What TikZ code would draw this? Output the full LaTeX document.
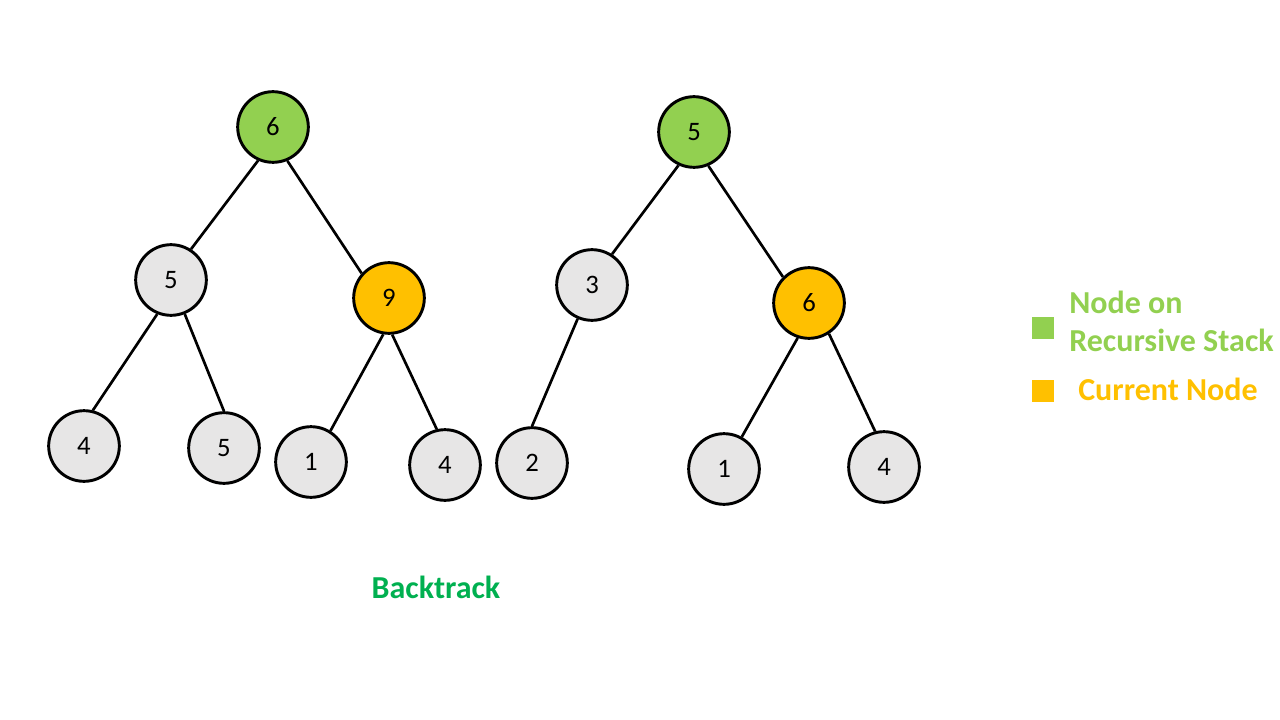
\documentclass[tikz,border=0pt]{standalone}
\usepackage{fontspec}
\setmainfont{Carlito}
\definecolor{stackgreen}{HTML}{92D050}
\definecolor{currorange}{HTML}{FFC000}
\definecolor{nodegray}{HTML}{E7E6E6}
\definecolor{backgreen}{HTML}{00B050}
\begin{document}
\begin{tikzpicture}[x=0.75pt,y=-0.75pt,
  treenode/.style={circle,draw=black,line width=2.2pt,fill=nodegray,minimum size=53pt,inner sep=0pt,font=\fontsize{20}{22}\selectfont},
  onstack/.style={treenode,fill=stackgreen},
  current/.style={treenode,fill=currorange},
  edge/.style={line width=2pt},
  legendbox/.style={rectangle,fill=#1,minimum size=16pt,inner sep=0pt},
  legendtext/.style={anchor=west,align=left,inner sep=0pt,font=\fontsize{24}{28.5}\selectfont\bfseries}]
\useasboundingbox (0,0) rectangle (1280,720);
%first tree%
\node[onstack] (rootA) at (273,127) {6};
\node[treenode] (leftA) at (171,280) {5};
\node[current] (rightA) at (389,298) {9};
\node[treenode] (leftleftA) at (84,446) {4};
\node[treenode] (leftrightA) at (224,448) {5};
\node[treenode] (rightleftA) at (311,462) {1};
\node[treenode] (rightrightA) at (445,465) {4};
\draw[edge] (rootA.246) -- (leftA.57);
\draw[edge] (rootA.293) -- (rightA.138);
\draw[edge] (leftA.248) -- (leftleftA.76);
\draw[edge] (leftA.292) -- (leftrightA.90);
\draw[edge] (rightA.261) -- (rightleftA.58);
\draw[edge] (rightA.275) -- (rightrightA.103);
%second tree%
\node[onstack] (rootB) at (694,132) {5};
\node[treenode] (leftB) at (592,285) {3};
\node[current] (rightB) at (809,303) {6};
\node[treenode] (leftleftB) at (532,463) {2};
\node[treenode] (rightleftB) at (724,469) {1};
\node[treenode] (rightrightB) at (884,467) {4};
\draw[edge] (rootB.245) -- (leftB.57);
\draw[edge] (rootB.293) -- (rightB.135);
\draw[edge] (leftB.247) -- (leftleftB.90);
\draw[edge] (rightB.252) -- (rightleftB.61);
\draw[edge] (rightB.303) -- (rightrightB.104);
%caption%
\node[font=\fontsize{24}{28}\selectfont\bfseries,text=backgreen] (backtrack) at (436,587) {Backtrack};
%legend%
\node[legendbox=stackgreen] (stackbox) at (1043,328) {};
\node[legendbox=currorange] (currbox) at (1043,391) {};
\node[legendtext,text=stackgreen] (stacklabel) at (1069,321) {Node on\\Recursive Stack};
\node[legendtext,text=currorange] (currlabel) at (1078,389) {Current Node};
\end{tikzpicture}
\end{document}
